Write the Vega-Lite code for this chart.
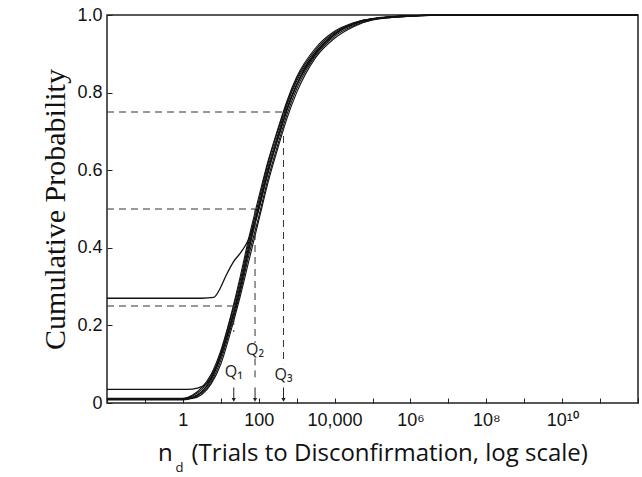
{
  "$schema": "https://vega.github.io/schema/vega-lite/v6.json",
  "width": 531,
  "height": 388,
  "autosize": "none",
  "padding": {"left": 107, "top": 15, "right": 4, "bottom": 74},
  "background": "white",
  "config": {
    "view": {"stroke": "#222", "strokeWidth": 1.5},
    "axis": {"grid": false, "domain": false, "tickColor": "#222", "labelColor": "#111", "labelFont": "Liberation Sans", "labelFontSize": 18, "titleColor": "#111"}
  },
  "datasets": {
    "main": [
      {"x": 0.01, "A": 0.01, "B": 0.008, "C": 0.01, "D": 0.012, "E": 0.01, "F": 0.01},
      {"x": 1, "A": 0.01, "B": 0.008, "C": 0.01, "D": 0.012, "E": 0.01, "F": 0.01},
      {"x": 1.78, "A": 0.015, "B": 0.013, "C": 0.018, "D": 0.02, "E": 0.014, "F": 0.012},
      {"x": 3.16, "A": 0.03, "B": 0.028, "C": 0.035, "D": 0.04, "E": 0.026, "F": 0.022},
      {"x": 5.62, "A": 0.06, "B": 0.065, "C": 0.07, "D": 0.075, "E": 0.055, "F": 0.05},
      {"x": 10, "A": 0.12, "B": 0.13, "C": 0.125, "D": 0.135, "E": 0.11, "F": 0.1},
      {"x": 17.8, "A": 0.2, "B": 0.215, "C": 0.205, "D": 0.22, "E": 0.19, "F": 0.18},
      {"x": 31.6, "A": 0.29, "B": 0.31, "C": 0.3, "D": 0.32, "E": 0.28, "F": 0.27},
      {"x": 56.2, "A": 0.4, "B": 0.42, "C": 0.41, "D": 0.43, "E": 0.385, "F": 0.37},
      {"x": 100, "A": 0.5, "B": 0.52, "C": 0.51, "D": 0.53, "E": 0.48, "F": 0.47},
      {"x": 178, "A": 0.6, "B": 0.62, "C": 0.61, "D": 0.625, "E": 0.58, "F": 0.57},
      {"x": 316, "A": 0.68, "B": 0.7, "C": 0.69, "D": 0.705, "E": 0.665, "F": 0.655},
      {"x": 562, "A": 0.76, "B": 0.775, "C": 0.77, "D": 0.78, "E": 0.745, "F": 0.735},
      {"x": 1000, "A": 0.82, "B": 0.835, "C": 0.83, "D": 0.84, "E": 0.81, "F": 0.8},
      {"x": 3162, "A": 0.9, "B": 0.91, "C": 0.905, "D": 0.915, "E": 0.895, "F": 0.89},
      {"x": 10000, "A": 0.95, "B": 0.955, "C": 0.952, "D": 0.958, "E": 0.945, "F": 0.94},
      {"x": 31623, "A": 0.975, "B": 0.978, "C": 0.977, "D": 0.98, "E": 0.972, "F": 0.97},
      {"x": 100000, "A": 0.99, "B": 0.99, "C": 0.99, "D": 0.991, "E": 0.988, "F": 0.987},
      {"x": 1000000, "A": 0.998, "B": 0.998, "C": 0.998, "D": 0.998, "E": 0.998, "F": 0.997},
      {"x": 10000000, "A": 1, "B": 1, "C": 1, "D": 1, "E": 1, "F": 1},
      {"x": 1000000000000, "A": 1, "B": 1, "C": 1, "D": 1, "E": 1, "F": 1}
    ],
    "extra": [
      {"s": "G", "x": 0.01, "y": 0.27}, {"s": "G", "x": 1, "y": 0.27}, {"s": "G", "x": 3.16, "y": 0.27},
      {"s": "G", "x": 6.5, "y": 0.272}, {"s": "G", "x": 9, "y": 0.29}, {"s": "G", "x": 14, "y": 0.33},
      {"s": "G", "x": 22, "y": 0.365}, {"s": "G", "x": 35, "y": 0.39}, {"s": "G", "x": 50, "y": 0.415},
      {"s": "G", "x": 100, "y": 0.5}, {"s": "G", "x": 178, "y": 0.6}, {"s": "G", "x": 316, "y": 0.68},
      {"s": "G", "x": 562, "y": 0.76}, {"s": "G", "x": 1000, "y": 0.82}, {"s": "G", "x": 3162, "y": 0.9},
      {"s": "G", "x": 10000, "y": 0.95}, {"s": "G", "x": 100000, "y": 0.99}, {"s": "G", "x": 10000000, "y": 1},
      {"s": "G", "x": 1000000000000, "y": 1},
      {"s": "H", "x": 0.01, "y": 0.035}, {"s": "H", "x": 1, "y": 0.035}, {"s": "H", "x": 1.78, "y": 0.036},
      {"s": "H", "x": 3.16, "y": 0.042}, {"s": "H", "x": 5.62, "y": 0.065}, {"s": "H", "x": 10, "y": 0.12},
      {"s": "H", "x": 17.8, "y": 0.2}, {"s": "H", "x": 31.6, "y": 0.29}, {"s": "H", "x": 56.2, "y": 0.4},
      {"s": "H", "x": 100, "y": 0.5}, {"s": "H", "x": 316, "y": 0.68}, {"s": "H", "x": 1000, "y": 0.82},
      {"s": "H", "x": 10000, "y": 0.95}, {"s": "H", "x": 100000, "y": 0.99}, {"s": "H", "x": 10000000, "y": 1},
      {"s": "H", "x": 1000000000000, "y": 1}
    ],
    "hdash": [
      {"x": 0.01, "x2": 22, "y": 0.25},
      {"x": 0.01, "x2": 80, "y": 0.5},
      {"x": 0.01, "x2": 450, "y": 0.75}
    ],
    "vdash": [
      {"x": 22, "y": 0.25, "y2": 0.183},
      {"x": 80, "y": 0.5, "y2": 0.155},
      {"x": 80, "y": 0.115, "y2": 0.06},
      {"x": 450, "y": 0.75, "y2": 0.1}
    ],
    "arrows": [
      {"x": 22, "y": 0.04, "y2": 0.008, "label": "Q₁", "ly": 0.08},
      {"x": 80, "y": 0.04, "y2": 0.008, "label": "Q₂", "ly": 0.137},
      {"x": 450, "y": 0.04, "y2": 0.008, "label": "Q₃", "ly": 0.072}
    ],
    "sub": [{"x": 0.82, "y": -0.168, "t": "d"}]
  },
  "layer": [
    {
      "data": {"name": "main"},
      "transform": [{"fold": ["A", "B", "C", "D", "E", "F"], "as": ["s", "y"]}],
      "mark": {"type": "line", "color": "#111", "strokeWidth": 1.1, "interpolate": "monotone"},
      "encoding": {
        "x": {"field": "x", "type": "quantitative", "scale": {"type": "log", "domain": [0.01, 1000000000000]},
          "axis": {"values": [0.01, 0.1, 1, 10, 100, 1000, 10000, 100000, 1000000, 10000000, 100000000, 1000000000, 10000000000, 100000000000, 1000000000000],
            "tickSize": -5, "labelPadding": 13, "labelFlush": false,
            "labelExpr": "datum.value == 1 ? '1' : datum.value == 100 ? '100' : datum.value == 10000 ? '10,000' : datum.value == 1000000 ? '10⁶' : datum.value == 100000000 ? '10⁸' : datum.value == 10000000000 ? '10¹⁰' : ''",
            "title": "n\u00a0\u00a0\u00a0(Trials to Disconfirmation, log scale)", "titleFont": "Open Sans", "titleFontSize": 24, "titleFontWeight": "normal", "titlePadding": 12}},
        "y": {"field": "y", "type": "quantitative", "scale": {"domain": [0, 1]},
          "axis": {"values": [0, 0.1, 0.2, 0.3, 0.4, 0.5, 0.6, 0.7, 0.8, 0.9, 1], "tickSize": -5, "labelPadding": 10,
            "labelExpr": "datum.value == 0 ? '0' : (round(datum.value * 10) % 2 == 0 ? format(datum.value, '.1f') : '')",
            "title": "Cumulative Probability", "titleFont": "Liberation Serif", "titleFontSize": 30, "titleFontWeight": "normal", "titlePadding": 6}},
        "detail": {"field": "s"}
      }
    },
    {
      "data": {"name": "extra"},
      "mark": {"type": "line", "color": "#111", "strokeWidth": 1.3, "interpolate": "monotone"},
      "encoding": {"x": {"field": "x", "type": "quantitative"}, "y": {"field": "y", "type": "quantitative"}, "detail": {"field": "s"}}
    },
    {
      "data": {"name": "hdash"},
      "mark": {"type": "rule", "color": "#333", "strokeDash": [7, 5], "strokeWidth": 1},
      "encoding": {"x": {"field": "x", "type": "quantitative"}, "x2": {"field": "x2"}, "y": {"field": "y", "type": "quantitative"}}
    },
    {
      "data": {"name": "vdash"},
      "mark": {"type": "rule", "color": "#333", "strokeDash": [7, 5], "strokeWidth": 1},
      "encoding": {"x": {"field": "x", "type": "quantitative"}, "y": {"field": "y", "type": "quantitative"}, "y2": {"field": "y2"}}
    },
    {
      "data": {"name": "arrows"},
      "mark": {"type": "rule", "color": "#222", "strokeWidth": 1},
      "encoding": {"x": {"field": "x", "type": "quantitative"}, "y": {"field": "y", "type": "quantitative"}, "y2": {"field": "y2"}}
    },
    {
      "data": {"name": "arrows"},
      "mark": {"type": "point", "shape": "triangle-down", "filled": true, "color": "#222", "size": 18, "opacity": 1},
      "encoding": {"x": {"field": "x", "type": "quantitative"}, "y": {"field": "y2", "type": "quantitative"}}
    },
    {
      "data": {"name": "arrows"},
      "mark": {"type": "text", "font": "Open Sans", "fontSize": 16, "color": "#222"},
      "encoding": {"x": {"field": "x", "type": "quantitative"}, "y": {"field": "ly", "type": "quantitative"}, "text": {"field": "label"}}
    },
    {
      "data": {"name": "sub"},
      "mark": {"type": "text", "font": "Open Sans", "fontSize": 13, "color": "#111", "clip": false},
      "encoding": {"x": {"field": "x", "type": "quantitative"}, "y": {"field": "y", "type": "quantitative"}, "text": {"field": "t"}}
    }
  ]
}
